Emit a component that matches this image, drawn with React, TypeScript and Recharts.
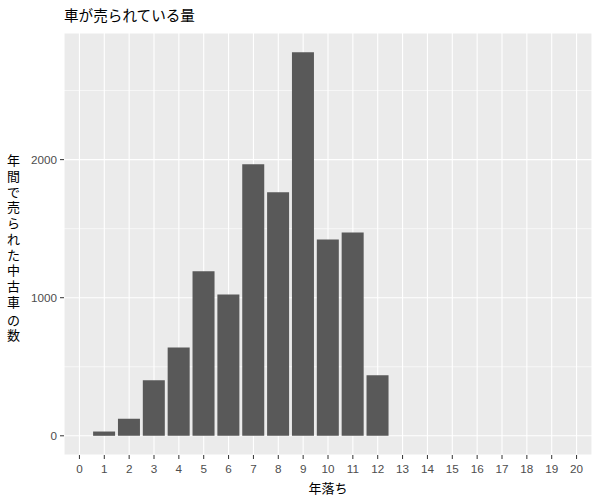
import React from "react";
import { BarChart, Bar, XAxis, YAxis, CartesianGrid } from "recharts";

// 年落ち (years since registration) and how many were sold
const ageYears = [
  "0", "1", "2", "3", "4", "5", "6", "7", "8", "9", "10",
  "11", "12", "13", "14", "15", "16", "17", "18", "19", "20",
];
const soldCounts = [
  0, 31, 123, 402, 640, 1191, 1024, 1966, 1763, 2778, 1422,
  1473, 438, 0, 0, 0, 0, 0, 0, 0, 0,
];
const yMajorTicks = [0, 1000, 2000];
const yMinorTicks = [500, 1500, 2500];
const yDomain = [-139, 2917];

const titleText = "車が売られている量";
const xTitle = "年落ち";
const yTitleChars = ["年", "間", "で", "売", "ら", "れ", "た", "中", "古", "車", "の", "数"];

const data = ageYears.map((age, i) => ({ age, count: soldCounts[i] }));

const tickFont = { fill: "#4D4D4D", fontSize: 11.7, fontFamily: "'Liberation Sans', Arial, sans-serif" };
const cjkFont = "'Noto Sans CJK JP', 'Noto Sans', sans-serif";

function YTitle() {
  // stacked one char per line, like the R plot
  return (
    <text x={13.5} y={165} textAnchor="middle" fontSize={13} fontFamily={cjkFont} fill="#000">
      {yTitleChars.map((c, i) => (
        <tspan key={i} x={13.5} dy={i === 0 ? 0 : c === "の" ? 18.3 : c === "数" ? 15 : 15.75}>
          {c}
        </tspan>
      ))}
    </text>
  );
}

// minor horizontal grid lines, between the major ticks
const minorLines = (props: any) => {
  const scale = props?.yAxis?.scale;
  if (typeof scale === "function") return yMinorTicks.map((v) => scale(v));
  if (scale && typeof scale.map === "function") return yMinorTicks.map((v) => scale.map(v));
  const off = props?.offset;
  if (!off) return [];
  const [lo, hi] = yDomain;
  return yMinorTicks.map((v) => off.top + (off.height * (hi - v)) / (hi - lo));
};

export default function App() {
  return (
    <div style={{ position: "absolute", left: 0, top: 0, width: 600, height: 500, background: "#fff" }}>
      <div
        style={{
          position: "absolute",
          left: 64,
          top: 5,
          fontSize: 14.6,
          fontFamily: cjkFont,
          color: "#000",
          lineHeight: "20px",
        }}
      >
        {titleText}
      </div>
      <BarChart
        width={600}
        height={500}
        data={data}
        margin={{ top: 33, right: 8, bottom: 0, left: 0 }}
        barCategoryGap="5%"
      >
        <CartesianGrid fill="#EBEBEB" stroke="#FFFFFF" strokeWidth={1.1} />
        <CartesianGrid
          vertical={false}
          stroke="#FFFFFF"
          strokeWidth={0.6}
          horizontalCoordinatesGenerator={minorLines}
        />
        <XAxis
          dataKey="age"
          height={45}
          padding={{ left: 3, right: 3 }}
          axisLine={false}
          tickSize={4}
          tickMargin={6}
          tickLine={{ stroke: "#333333" }}
          tick={tickFont}
          interval={0}
          label={{ value: xTitle, position: "insideBottom", offset: 7, fill: "#000", fontSize: 13, fontFamily: cjkFont }}
        />
        <YAxis
          type="number"
          width={64}
          domain={yDomain}
          ticks={yMajorTicks}
          interval={0}
          axisLine={false}
          tickSize={4}
          tickMargin={3}
          tickLine={{ stroke: "#333333" }}
          tick={tickFont}
          label={{ content: () => <YTitle /> }}
        />
        <Bar dataKey="count" fill="#595959" isAnimationActive={false} />
      </BarChart>
    </div>
  );
}
